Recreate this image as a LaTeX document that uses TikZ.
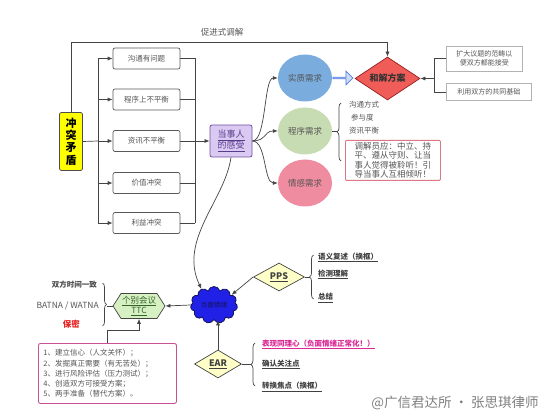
\documentclass[tikz,border=0pt]{standalone}
\usepackage{fontspec}
\setmainfont{Noto Sans CJK SC}
\usetikzlibrary{arrows.meta,shapes.geometric,shapes.symbols,shapes.arrows,decorations.pathreplacing}
\newcommand\fsz[2]{\fontsize{#1}{#2}\selectfont}
\definecolor{lineC}{RGB}{68,68,68}
\definecolor{yelC}{RGB}{255,255,0}
\definecolor{purF}{RGB}{218,202,242}
\definecolor{purD}{RGB}{112,80,160}
\definecolor{purT}{RGB}{90,60,140}
\definecolor{bluC}{RGB}{122,172,222}
\definecolor{greC}{RGB}{200,220,180}
\definecolor{pinC}{RGB}{240,140,160}
\definecolor{redF}{RGB}{240,92,88}
\definecolor{redD}{RGB}{150,30,30}
\definecolor{cloudF}{RGB}{32,32,230}
\definecolor{cloudD}{RGB}{20,20,90}
\definecolor{diaF}{RGB}{255,255,200}
\definecolor{hexF}{RGB}{215,240,195}
\definecolor{hexT}{RGB}{50,100,40}
\definecolor{rbox}{RGB}{220,120,130}
\definecolor{lbox}{RGB}{200,80,150}
\definecolor{magT}{RGB}{220,40,150}
\definecolor{redT}{RGB}{230,30,30}
\definecolor{txtG}{RGB}{85,85,85}
\begin{document}
\begin{tikzpicture}[x=1pt,y=-1pt,
  arr/.style={-{Latex[length=5pt,width=4pt]}, draw=lineC, line width=0.7pt},
  ln/.style={draw=lineC, line width=0.7pt},
  brc/.style={draw=lineC, line width=0.7pt, decorate, decoration={brace, amplitude=4pt}},
  cbox/.style={draw=black!65, rounded corners=2pt, fill=white, minimum width=67pt, minimum height=21pt, inner sep=0pt, font=\fsz{7.5}{9}, text=txtG, line width=0.7pt},
  gbox/.style={draw=black!30, fill=white, inner sep=2pt, font=\fsz{7}{9.5}, text=txtG, align=center, line width=0.6pt},
  circ/.style={ellipse, minimum width=54pt, minimum height=47pt, inner sep=0pt, font=\fsz{8.5}{10}, text=txtG},
  itm/.style={anchor=west, inner sep=0pt, font=\fsz{7.5}{9}, text=txtG},
  bitm/.style={anchor=west, inner sep=0pt, font=\bfseries\fsz{7.5}{9}, text=black!75},
  ydia/.style={diamond, aspect=1.8, fill=diaF, draw=lineC, line width=0.7pt, inner sep=0pt, font=\bfseries\fsz{9}{10}, text=black!75}
]
\useasboundingbox (0,0) rectangle (550,420);
\fill[white] (0,0) rectangle (550,420);

% title
\node[font=\fsz{8.5}{10}, text=txtG] (tt) at (222,32) {促进式调解};

% conflict box
\node[fill=yelC, draw=black!70, rounded corners=2pt, line width=0.8pt, minimum width=23pt, minimum height=58pt, inner sep=0pt, align=center, font=\bfseries\fsz{11}{12.3}] (ct) at (71,141.5) {冲\\突\\矛\\盾};

% five boxes
\node[cbox] (b1) at (146.5,58.5) {沟通有问题};
\node[cbox] (b2) at (146.5,99.5) {程序上不平衡};
\node[cbox] (b3) at (146.5,141) {资讯不平衡};
\node[cbox] (b4) at (146.5,183) {价值冲突};
\node[cbox] (b5) at (146.5,223) {利益冲突};

\coordinate (L1) at (98,58.5);
\coordinate (L2) at (98,99.5);
\coordinate (L3) at (98,141);
\coordinate (L4) at (98,183);
\coordinate (L5) at (98,223);
\coordinate (R1) at (195,58.5);
\coordinate (R2) at (195,99.5);
\coordinate (R3) at (195,141);
\coordinate (R4) at (195,183);
\coordinate (R5) at (195,223);

\draw[ln] (ct.east) -- (L3);
\draw[ln] (L1) -- (L5);
\draw[ln] (R1) -- (R5);
\foreach \i in {1,...,5}{
  \draw[arr] (L\i) -- (b\i.west);
  \draw[ln] (b\i.east) -- (R\i);
}

% party feelings
\node[fill=purF, draw=purD, rounded corners=2pt, line width=0.8pt, minimum width=42pt, minimum height=32pt, inner sep=0pt, align=center, font=\fsz{9}{11}, text=purT] (ds) at (231,141) {\underline{当事人}\\\underline{的感受}};
\draw[arr] (R3) -- (ds.west);

% needs
\node[circ, fill=bluC] (sz) at (305,78) {实质需求};
\node[circ, fill=greC] (cx) at (305,131) {程序需求};
\node[circ, fill=pinC] (qg) at (305,183) {情感需求};
\draw[arr] (ds.east) .. controls +(14,0) and +(-14,0) .. (sz.west);
\draw[arr] (ds.east) .. controls +(14,0) and +(-14,0) .. (cx.west);
\draw[arr] (ds.east) .. controls +(14,0) and +(-14,0) .. (qg.west);

% settlement
\node[diamond, fill=redF, draw=redD, line width=0.7pt, minimum width=65pt, minimum height=43pt, aspect=1.5, inner sep=0pt, font=\bfseries\fsz{9}{10}, text=black!80] (hj) at (387.5,78.5) {和解方案};
\node[single arrow, draw=bluC!70!blue, fill=bluC!40, line width=0.8pt, minimum height=20pt, minimum width=14pt, single arrow head extend=3pt, inner sep=0pt] (ar) at (342.5,78) {};

\coordinate (tc) at (387.5,42);
\draw[arr] (ct.north) |- (tc) -- (hj.north);

% right boxes
\node[gbox, anchor=west, minimum width=76pt, minimum height=25pt] (r1) at (446,58.5) {扩大议题的范畴以\\便双方都能接受};
\node[gbox, anchor=west, minimum width=85pt, minimum height=17pt] (r2) at (446,92) {利用双方的共同基础};
\coordinate (k1) at (434,58.5);
\coordinate (k2) at (434,92);
\coordinate (k0) at (434,78.5);
\draw[ln] (r1.west) -- (k1) -- (k2) -- (r2.west);
\draw[arr] (k0) -- (hj.east);

% procedural needs items
\node[itm] (i1) at (349,105) {沟通方式};
\node[itm] (i2) at (351,117.5) {参与度};
\node[itm] (i3) at (349,130.5) {资讯平衡};
\node[draw=rbox, line width=0.8pt, rounded corners=1pt, fill=white, anchor=north west, minimum width=95pt, minimum height=40pt, inner xsep=8pt, inner ysep=1pt, align=left, font=\fsz{8.5}{9.5}, text=txtG] (rb) at (345,140) {调解员应：中立、持\\平、遵从守则、让当\\事人觉得被聆听！引\\导当事人互相倾听！};
\draw[brc] (341,161) -- (341,103);
\coordinate (cxb) at (337,131);
\draw[ln] (cx.east) -- (cxb);

% negative emotions cloud
\node[cloud, cloud puffs=11, aspect=1.3, fill=cloudF, draw=cloudD, line width=0.8pt, minimum width=47pt, minimum height=37pt, inner sep=0pt, font=\fsz{6.5}{8}, text=cloudD] (fm) at (214,305) {负面情绪};
\draw[arr] (ds.south) .. controls (225,200) and (178,240) .. (fm.128);

% PPS
\node[ydia, minimum width=51pt, minimum height=28pt] (pps) at (279,277) {\underline{PPS}};
\draw[arr] (pps.west) -- (fm.30);
\draw[brc] (313.5,299) -- (313.5,255);
\coordinate (ppsb) at (309.5,277);
\draw[ln] (pps.east) -- (ppsb);
\node[bitm] (p1) at (318,257.5) {\underline{语义复述（换框）}};
\node[bitm] (p2) at (318,274.5) {\underline{检测理解}};
\node[bitm] (p3) at (318,298) {\underline{总结}};

% EAR
\node[ydia, minimum width=47pt, minimum height=28pt] (ear) at (218,364) {\underline{EAR}};
\draw[arr] (ear.north) -- (ear.north |- fm.south);
\draw[brc] (255,386) -- (255,343);
\coordinate (earb) at (251,364);
\draw[ln] (ear.east) -- (earb);
\node[bitm, text=magT] (e1) at (262,344.5) {\underline{表现同理心（负面情绪正常化！）}};
\node[bitm] (e2) at (262,364.5) {\underline{确认关注点}};
\node[bitm] (e3) at (262,387) {\underline{转换焦点（换框）}};

% caucus TTC
\node[signal, signal to=east and west, signal pointer angle=115, fill=hexF, draw=lineC, line width=0.7pt, minimum width=51pt, minimum height=25pt, inner sep=1pt, align=center, font=\fsz{8.5}{10}, text=hexT] (ttc) at (139,306) {\underline{个别会议}\\\underline{TTC}};
\draw[arr] (fm.west) -- (ttc.east);
\draw[brc] (102.5,283) -- (102.5,326);
\coordinate (ttcb) at (106.5,306);
\draw[ln] (ttc.west) -- (ttcb);
\node[anchor=east, inner sep=0pt, font=\bfseries\fsz{7.5}{9}, text=black!70] (l1) at (97,284.5) {双方时间一致};
\node[anchor=east, inner sep=0pt, font=\fsz{8.5}{10}, text=txtG] (l2) at (99,306) {BATNA / WATNA};
\node[anchor=east, inner sep=0pt, font=\bfseries\fsz{8.5}{10}, text=redT] (l3) at (80,324) {保密};

% list box
\node[draw=lbox, line width=0.9pt, rounded corners=2pt, fill=white, anchor=north west, minimum width=138pt, minimum height=60pt, inner xsep=5pt, inner ysep=3pt, align=left, font=\fsz{7.5}{10.3}, text=txtG, text width=128pt] (lb) at (38,343) {1、建立信心（人文关怀）；\\2、发掘真正需要（有无苦处）；\\3、进行风险评估（压力测试）；\\4、创造双方可接受方案；\\5、两手准备（替代方案）。};
\draw[arr] (lb.north) -- ++(0,-13) -| (ttc.south);

% watermark
\node[font=\fsz{13.5}{15}, text=black!50] (wm) at (455,403) {@广信君达所 · 张思琪律师};
\end{tikzpicture}
\end{document}
